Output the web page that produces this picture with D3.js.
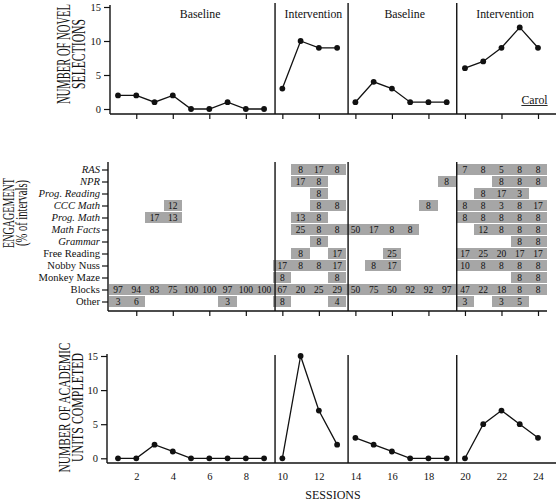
<!DOCTYPE html>
<html><head><meta charset="utf-8">
<script src="https://cdn.jsdelivr.net/npm/d3@7"></script>
<style>
body{margin:0;background:#fff}
svg{display:block;font-family:"Liberation Serif","Times New Roman",serif}
</style>
</head><body>
<svg id="chart" width="558" height="501"></svg>
<script>
// ---------------- DATA ----------------
const sessions = d3.range(1, 25);
const novelSelections = [2,2,1,2,0,0,1,0,0, 3,10,9,9, 1,4,3,1,1,1, 6,7,9,12,9];
const academicUnits   = [0,0,2,1,0,0,0,0,0, 0,15,7,2, 3,2,1,0,0,0, 0,5,7,5,3];
const phaseNames  = ["Baseline", "Intervention", "Baseline", "Intervention"];
const phaseBreaks = [9.6, 13.6, 19.55];
const yTicks = [0, 5, 10, 15];
const xTickLabels = [2,4,6,8,10,12,14,16,18,20,22,24];
const categories = ["RAS","NPR","Prog. Reading","CCC Math","Prog. Math","Math Facts","Grammar",
                    "Free Reading","Nobby Nuss","Monkey Maze","Blocks","Other"];
const italicCategories = ["RAS","NPR","Prog. Reading","CCC Math","Prog. Math","Math Facts","Grammar"];
const _ = null;
const engRAS         = [_,_,_,_,_,_,_,_,_, _,8,17,8,  _,_,_,_,_,_,     7,8,5,8,8];
const engNPR         = [_,_,_,_,_,_,_,_,_, _,17,8,_,  _,_,_,_,_,8,     _,_,8,8,8];
const engProgReading = [_,_,_,_,_,_,_,_,_, _,_,8,_,   _,_,_,_,_,_,     _,8,17,3,_];
const engCCCMath     = [_,_,_,12,_,_,_,_,_, _,_,8,8,  _,_,_,_,8,_,     8,8,3,8,17];
const engProgMath    = [_,_,17,13,_,_,_,_,_, _,13,8,_, _,_,_,_,_,_,    8,8,8,8,8];
const engMathFacts   = [_,_,_,_,_,_,_,_,_, _,25,8,8,  50,17,8,8,_,_,   _,12,8,8,8];
const engGrammar     = [_,_,_,_,_,_,_,_,_, _,_,8,_,   _,_,_,_,_,_,     _,_,_,8,8];
const engFreeReading = [_,_,_,_,_,_,_,_,_, _,8,_,17,  _,_,25,_,_,_,    17,25,20,17,17];
const engNobbyNuss   = [_,_,_,_,_,_,_,_,_, 17,8,8,17, _,8,17,_,_,_,    10,8,8,8,8];
const engMonkeyMaze  = [_,_,_,_,_,_,_,_,_, 8,_,_,8,   _,_,_,_,_,_,     _,_,_,8,8];
const engBlocks      = [97,94,83,75,100,100,97,100,100, 67,20,25,29, 50,75,50,92,92,97, 47,22,18,8,8];
const engOther       = [3,6,_,_,_,_,3,_,_, 8,_,_,4,   _,_,_,_,_,_,     3,_,3,5,_];
const engagementRows = [engRAS, engNPR, engProgReading, engCCCMath, engProgMath, engMathFacts,
                        engGrammar, engFreeReading, engNobbyNuss, engMonkeyMaze, engBlocks, engOther];

// ---------------- LAYOUT ----------------
const svg = d3.select("#chart");
const x = d3.scaleLinear().domain([1, 24]).range([118, 538]);
const cellW = x(2) - x(1);
const ink = "#111";
const serif = "Liberation Serif";

function yTitle(lines, centersX, cy, lens, size) {
  lines.forEach((t, i) => {
    const el = svg.append("text")
      .attr("text-anchor", "middle").attr("dy", "0.35em")
      .attr("font-size", size).attr("fill", ink).attr("font-family", serif)
      .text(t);
    const natural = el.node().getComputedTextLength();
    const sx = lens[i] / natural;
    el.attr("transform", `translate(${centersX[i]},${cy}) rotate(-90) scale(${sx},1)`);
  });
}

function linePanel(values, yTop, yZero, axisY, axisX, lineTop, xEnd, opts) {
  const y = d3.scaleLinear().domain([0, 15]).range([yZero, yTop]);
  const g = svg.append("g");
  g.append("line").attr("x1", axisX).attr("x2", axisX).attr("y1", yTop - 2).attr("y2", axisY)
    .attr("stroke", ink).attr("stroke-width", 1.4);
  const ya = d3.axisLeft(y).tickValues(yTicks).tickSize(6).tickPadding(3);
  const yg = g.append("g").attr("transform", `translate(${axisX},0)`).call(ya);
  yg.attr("font-family", serif);
  yg.select(".domain").remove();
  yg.selectAll("line").attr("stroke", ink).attr("stroke-width", 1.2);
  yg.selectAll("text").attr("font-size", 10.5).attr("fill", ink);
  g.append("line").attr("x1", axisX).attr("x2", xEnd).attr("y1", axisY).attr("y2", axisY)
    .attr("stroke", ink).attr("stroke-width", 1.4);
  if (opts.ticks) {
    const xa = d3.axisBottom(x).tickValues(xTickLabels).tickSize(5).tickFormat("");
    const xg = g.append("g").attr("transform", `translate(0,${axisY})`).call(xa);
    xg.select(".domain").remove();
    xg.selectAll("line").attr("stroke", ink).attr("stroke-width", 1.2);
  }
  if (opts.labels) {
    const xa = d3.axisBottom(x).tickValues(xTickLabels).tickSize(0).tickPadding(10);
    const xg = g.append("g").attr("transform", `translate(0,${axisY})`).call(xa);
    xg.attr("font-family", serif);
    xg.select(".domain").remove();
    xg.selectAll("text").attr("font-size", 10.5).attr("fill", ink);
  }
  phaseBreaks.forEach(b => {
    g.append("line").attr("x1", x(b)).attr("x2", x(b)).attr("y1", lineTop).attr("y2", axisY)
      .attr("stroke", ink).attr("stroke-width", 1.4);
  });
  const seg = [[1,9],[10,13],[14,19],[20,24]];
  const line = d3.line().x(d => x(d.s)).y(d => y(d.v));
  seg.forEach(([a, b]) => {
    const pts = sessions.filter(s => s >= a && s <= b).map(s => ({s, v: values[s - 1]}));
    g.append("path").attr("d", line(pts)).attr("fill", "none").attr("stroke", ink).attr("stroke-width", 1.3);
    g.selectAll(null).data(pts).enter().append("circle")
      .attr("cx", d => x(d.s)).attr("cy", d => y(d.v)).attr("r", 2.9).attr("fill", ink);
  });
  return g;
}

// ---------------- TOP PANEL ----------------
const topPanel = linePanel(novelSelections, 7, 109, 114, 110, 3, 556, {ticks: true});
const phaseLabelAt = [5.5, 11.7, 16.7, 22.2];
phaseNames.forEach((n, i) => {
  topPanel.append("text").attr("x", x(phaseLabelAt[i])).attr("y", 17.5)
    .attr("text-anchor", "middle").attr("font-size", 11.8).attr("font-family", serif)
    .attr("fill", ink).text(n);
});
const carol = topPanel.append("text").attr("x", 534.5).attr("y", 103.5).attr("text-anchor", "middle")
  .attr("font-size", 11.8).attr("font-family", serif).attr("fill", ink).text("Carol");
const cw = carol.node().getComputedTextLength();
topPanel.append("line").attr("x1", 534.5 - cw / 2).attr("x2", 534.5 + cw / 2)
  .attr("y1", 105.5).attr("y2", 105.5).attr("stroke", ink).attr("stroke-width", 0.9);
yTitle(["NUMBER OF NOVEL", "SELECTIONS"], [64, 79], 54, [100, 70], 18);

// ---------------- MIDDLE PANEL ----------------
const yCat = d3.scalePoint().domain(categories).range([169.5, 301.5]);
const mid = svg.append("g");
const midAxisY = 311, midAxisX = 108;
engagementRows.forEach((row, ci) => {
  const cat = categories[ci];
  row.forEach((v, si) => {
    if (v === null) return;
    const s = si + 1;
    mid.append("rect").attr("x", x(s) - cellW / 2).attr("y", yCat(cat) - 5.6)
      .attr("width", cellW).attr("height", 11.2).attr("fill", "#a6a6a6")
      .attr("shape-rendering", "crispEdges");
  });
});
engagementRows.forEach((row, ci) => {
  const cat = categories[ci];
  row.forEach((v, si) => {
    if (v === null) return;
    const s = si + 1;
    mid.append("text").attr("x", x(s)).attr("y", yCat(cat) + 3.3).attr("text-anchor", "middle")
      .attr("font-size", 9.5).attr("font-family", serif).attr("fill", "#111").text(v);
  });
});
mid.append("line").attr("x1", midAxisX).attr("x2", midAxisX).attr("y1", 162).attr("y2", midAxisY)
  .attr("stroke", ink).attr("stroke-width", 1.4);
const ca = d3.axisLeft(yCat).tickSize(6).tickPadding(2);
const cg = mid.append("g").attr("transform", `translate(${midAxisX},0)`).call(ca);
cg.attr("font-family", serif);
cg.select(".domain").remove();
cg.selectAll("line").attr("stroke", ink).attr("stroke-width", 1.2);
cg.selectAll("text").attr("font-size", 10.6).attr("fill", ink)
  .attr("font-style", d => italicCategories.includes(d) ? "italic" : "normal");
mid.append("line").attr("x1", midAxisX).attr("x2", 547).attr("y1", midAxisY).attr("y2", midAxisY)
  .attr("stroke", ink).attr("stroke-width", 1.4);
const mxa = d3.axisBottom(x).tickValues(xTickLabels).tickSize(5).tickFormat("");
const mxg = mid.append("g").attr("transform", `translate(0,${midAxisY})`).call(mxa);
mxg.select(".domain").remove();
mxg.selectAll("line").attr("stroke", ink).attr("stroke-width", 1.2);
phaseBreaks.forEach(b => {
  mid.append("line").attr("x1", x(b)).attr("x2", x(b)).attr("y1", 162).attr("y2", midAxisY)
    .attr("stroke", ink).attr("stroke-width", 1.4);
});
yTitle(["ENGAGEMENT", "(% of intervals)"], [8, 21], 213, [70, 66], 17);

// ---------------- BOTTOM PANEL ----------------
linePanel(academicUnits, 356, 458.3, 463, 107, 355, 556, {labels: true});
yTitle(["NUMBER OF ACADEMIC", "UNITS COMPLETED"], [64.5, 77.5], 407.5, [130, 109], 17);
svg.append("text").attr("x", 333).attr("y", 499).attr("text-anchor", "middle")
  .attr("font-size", 12).attr("font-family", serif).attr("fill", ink).text("SESSIONS");
</script>
</body></html>
